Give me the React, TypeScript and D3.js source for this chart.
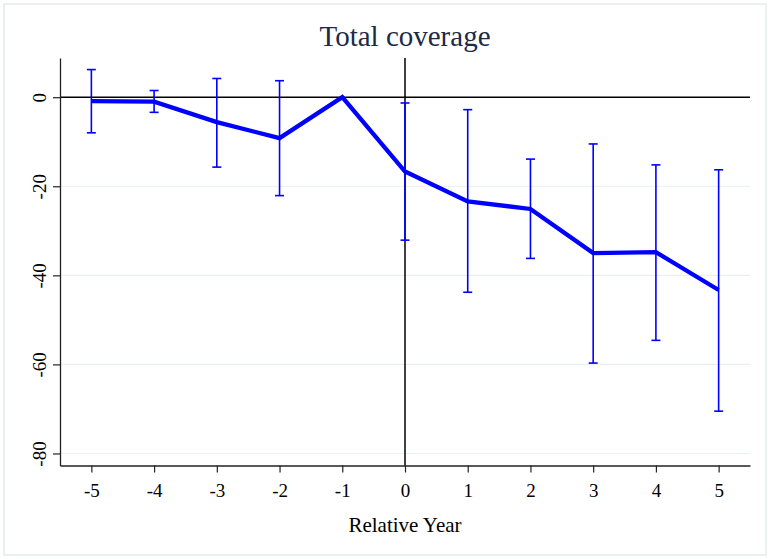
import * as d3 from "d3";
import { useEffect, useRef } from "react";

// event-study estimates
const years = [-5, -4, -3, -2, -1, 0, 1, 2, 3, 4, 5];
const coef = [-0.9, -1.0, -5.6, -9.2, 0, -16.7, -23.4, -25.1, -35.0, -34.8, -43.3];
const lower: (number | null)[] = [-8.0, -3.4, -15.7, -22.1, null, -32.1, -43.8, -36.2, -59.7, -54.6, -70.5];
const upper: (number | null)[] = [6.2, 1.5, 4.2, 3.7, null, -1.3, -2.8, -13.9, -10.5, -15.2, -16.3];
const yTicks = [0, -20, -40, -60, -80];
const xTicks = [-5, -4, -3, -2, -1, 0, 1, 2, 3, 4, 5];

const FONT = "'Liberation Serif', 'DejaVu Serif', serif";

export default function App() {
  const ref = useRef<SVGSVGElement | null>(null);

  useEffect(() => {
    const svg = d3.select(ref.current as SVGSVGElement);
    svg.selectAll("*").remove();

    const width = 768;
    const height = 559;
    const margin = { top: 58, right: 18, bottom: 93.5, left: 60 };

    const x = d3.scaleLinear().domain([-5.5, 5.5]).range([margin.left, width - margin.right]);
    const y = d3.scaleLinear().domain([-82.7, 8.8]).range([height - margin.bottom, margin.top]);

    // outer frame
    svg
      .append("rect")
      .attr("x", 4)
      .attr("y", 4)
      .attr("width", width - 6)
      .attr("height", height - 8)
      .attr("fill", "white")
      .attr("stroke", "#e4ecee")
      .attr("stroke-width", 1.5);

    // grid lines
    svg
      .append("g")
      .selectAll("line")
      .data(yTicks.filter((t) => t !== 0))
      .enter()
      .append("line")
      .attr("x1", x(-5.5))
      .attr("x2", x(5.5))
      .attr("y1", (d) => y(d))
      .attr("y2", (d) => y(d))
      .attr("stroke", "#e8f0f2")
      .attr("stroke-width", 1.2);

    // reference lines at 0
    svg
      .append("line")
      .attr("x1", x(-5.5))
      .attr("x2", x(5.5))
      .attr("y1", y(0))
      .attr("y2", y(0))
      .attr("stroke", "#000")
      .attr("stroke-width", 1.5);
    svg
      .append("line")
      .attr("x1", x(0))
      .attr("x2", x(0))
      .attr("y1", y(8.8))
      .attr("y2", y(-82.7))
      .attr("stroke", "#000")
      .attr("stroke-width", 1.5);

    // y axis
    const yAxis = svg
      .append("g")
      .attr("transform", `translate(${margin.left},0)`)
      .call(d3.axisLeft(y).tickValues(yTicks).tickSize(7).tickSizeOuter(0).tickFormat((d) => `${d}`));
    yAxis.select(".domain").attr("stroke", "#222").attr("stroke-width", 1.3);
    yAxis.selectAll(".tick line").attr("stroke", "#222").attr("stroke-width", 1.2);
    yAxis
      .selectAll(".tick text")
      .attr("x", null)
      .attr("dy", null)
      .attr("transform", "translate(-14,0) rotate(-90)")
      .attr("text-anchor", "middle")
      .attr("font-family", FONT)
      .attr("font-size", 19)
      .attr("fill", "#000");

    // x axis
    const xAxis = svg
      .append("g")
      .attr("transform", `translate(0,${height - margin.bottom})`)
      .call(d3.axisBottom(x).tickValues(xTicks).tickSize(7).tickSizeOuter(0).tickFormat((d) => `${d}`));
    xAxis.select(".domain").attr("stroke", "#222").attr("stroke-width", 1.3);
    xAxis.selectAll(".tick line").attr("stroke", "#222").attr("stroke-width", 1.2);
    xAxis
      .selectAll(".tick text")
      .attr("y", 31.5)
      .attr("dy", null)
      .attr("font-family", FONT)
      .attr("font-size", 19)
      .attr("fill", "#000");

    // error bars
    const bars = years
      .map((yr, i) => ({ yr, lo: lower[i], hi: upper[i] }))
      .filter((d) => d.lo !== null && d.hi !== null) as { yr: number; lo: number; hi: number }[];
    const eb = svg.append("g").attr("stroke", "#0000ff").attr("stroke-width", 1.6);
    eb.selectAll("line.v")
      .data(bars)
      .enter()
      .append("line")
      .attr("x1", (d) => x(d.yr))
      .attr("x2", (d) => x(d.yr))
      .attr("y1", (d) => y(d.hi))
      .attr("y2", (d) => y(d.lo));
    const cap = 4.5;
    eb.selectAll("line.hi")
      .data(bars)
      .enter()
      .append("line")
      .attr("x1", (d) => x(d.yr) - cap)
      .attr("x2", (d) => x(d.yr) + cap)
      .attr("y1", (d) => y(d.hi))
      .attr("y2", (d) => y(d.hi));
    eb.selectAll("line.lo")
      .data(bars)
      .enter()
      .append("line")
      .attr("x1", (d) => x(d.yr) - cap)
      .attr("x2", (d) => x(d.yr) + cap)
      .attr("y1", (d) => y(d.lo))
      .attr("y2", (d) => y(d.lo));

    // coefficient line
    const line = d3
      .line<number>()
      .x((_, i) => x(years[i]))
      .y((d) => y(d));
    svg
      .append("path")
      .datum(coef)
      .attr("d", line)
      .attr("fill", "none")
      .attr("stroke", "#0000ff")
      .attr("stroke-width", 4.3)
      .attr("stroke-linejoin", "miter");

    // titles
    svg
      .append("text")
      .attr("x", (x(-5.5) + x(5.5)) / 2)
      .attr("y", 46)
      .attr("text-anchor", "middle")
      .attr("font-family", FONT)
      .attr("font-size", 29)
      .attr("fill", "#1c2a48")
      .text("Total coverage");

    svg
      .append("text")
      .attr("x", (x(-5.5) + x(5.5)) / 2)
      .attr("y", 532)
      .attr("text-anchor", "middle")
      .attr("font-family", FONT)
      .attr("font-size", 21)
      .attr("fill", "#000")
      .text("Relative Year");
  }, []);

  return (
    <svg
      ref={ref}
      width={768}
      height={559}
      style={{ position: "absolute", left: 0, top: 0, display: "block", background: "white" }}
    />
  );
}
